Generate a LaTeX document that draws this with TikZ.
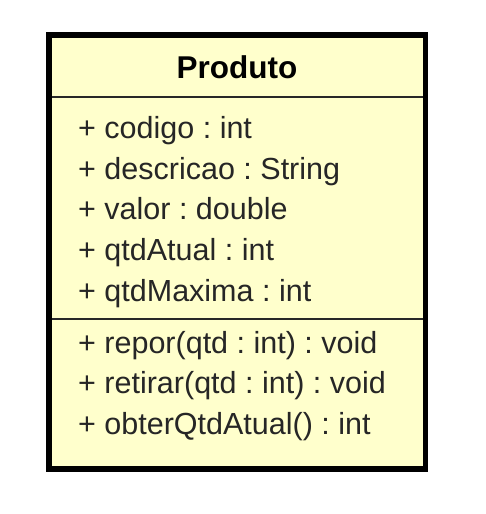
\documentclass[tikz,border=0pt]{standalone}
\usepackage{fontspec}
\setmainfont{Liberation Sans}
\definecolor{classfill}{RGB}{255,255,204}
\definecolor{sepcol}{RGB}{40,40,40}
\frenchspacing
\begin{document}
\begin{tikzpicture}[x=1pt,y=-1pt,
  classbox/.style={draw=black,fill=classfill,line width=5.5pt,inner sep=0pt,
    minimum width=376.5pt,minimum height=434pt},
  sepline/.style={draw=sepcol,line width=2pt},
  member/.style={anchor=base west,inner sep=0pt,font=\fontsize{30.5}{30.5}\selectfont,text=black!85},
  title/.style={anchor=base,inner sep=0pt,font=\fontsize{31.5}{31.5}\selectfont\bfseries}]
\useasboundingbox (0,0) rectangle (486,514);
\node[classbox] (box) at (237,251.75) {};
\node[title] (name) at (237,78.3) {Produto};
\coordinate (s1l) at (51.5,97.3);
\coordinate (s1r) at (422.5,97.3);
\coordinate (s2l) at (51.5,318.8);
\coordinate (s2r) at (422.5,318.8);
\draw[sepline] (s1l) -- (s1r);
\draw[sepline] (s2l) -- (s2r);
\node[member] (a1) at (78,138.5) {+ codigo : int};
\node[member] (a2) at (78,179) {+ descricao : String};
\node[member] (a3) at (78,219.5) {+ valor : double};
\node[member] (a4) at (78,260.5) {+ qtdAtual : int};
\node[member] (a5) at (78,301) {+ qtdMaxima : int};
\node[member] (m1) at (78,353.5) {+ repor(qtd : int) : void};
\node[member] (m2) at (78,393.5) {+ retirar(qtd : int) : void};
\node[member] (m3) at (78,434) {+ obterQtdAtual() : int};
\end{tikzpicture}
\end{document}
